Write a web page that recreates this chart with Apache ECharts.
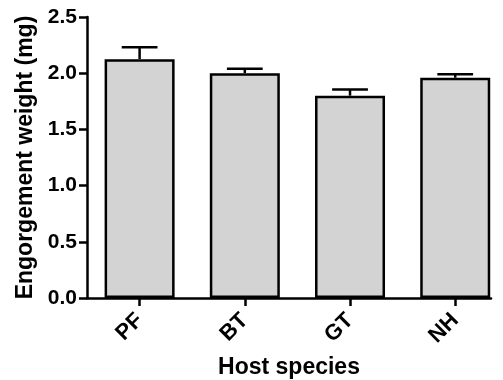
<!DOCTYPE html>
<html>
<head>
<meta charset="utf-8">
<script src="https://cdn.jsdelivr.net/npm/echarts@6/dist/echarts.min.js"></script>
<style>
  html, body { margin: 0; padding: 0; background: #fff; }
  #chart { width: 503px; height: 380px; }
</style>
</head>
<body>
<div id="chart"></div>
<script>
// host species and mean engorgement weight (mg) with upper error (SEM)
const categories = ['PF', 'BT', 'GT', 'NH']
const means = [2.125, 2.0, 1.8, 1.96]
const errors = [0.105, 0.04, 0.055, 0.03]

const font = 'Liberation Sans, Arial, sans-serif'
const chart = echarts.init(document.getElementById('chart'))

const barData = categories.map((c, i) => [i, means[i]])
const errData = categories.map((c, i) => [i, means[i], means[i] + errors[i]])

chart.setOption({
  animation: false,
  grid: { left: 87, right: 12, top: 17, bottom: 82, outerBoundsMode: 'none' },
  xAxis: {
    type: 'value',
    min: -0.5,
    max: 3.34,
    name: 'Host species',
    nameLocation: 'middle',
    nameGap: 58,
    nameTextStyle: { color: '#000', fontFamily: font, fontWeight: 'bold', fontSize: 23 },
    splitLine: { show: false },
    axisLine: { onZero: false, lineStyle: { color: '#000', width: 2.5 } },
    axisTick: { customValues: [0, 1, 2, 3], length: 8, lineStyle: { color: '#000', width: 2.5 } },
    axisLabel: {
      customValues: [0, 1, 2, 3],
      formatter: v => categories[v],
      rotate: 45,
      margin: 19,
      color: '#000',
      fontFamily: font,
      fontWeight: 'bold',
      fontSize: 22
    }
  },
  yAxis: {
    type: 'value',
    min: 0,
    max: 2.5,
    interval: 0.5,
    name: 'Engorgement weight (mg)',
    nameLocation: 'middle',
    nameGap: 50,
    nameTextStyle: { color: '#000', fontFamily: font, fontWeight: 'bold', fontSize: 23 },
    splitLine: { show: false },
    axisLine: { show: true, onZero: false, lineStyle: { color: '#000', width: 2.5 } },
    axisTick: { show: true, length: 8, lineStyle: { color: '#000', width: 2.5 } },
    axisLabel: {
      formatter: v => v.toFixed(1),
      margin: 10,
      color: '#000',
      fontFamily: font,
      fontWeight: 'bold',
      fontSize: 21
    }
  },
  series: [
    {
      type: 'bar',
      data: barData,
      barWidth: 70,
      itemStyle: { color: '#d3d3d3', borderColor: '#000', borderWidth: 2.5 },
      z: 2
    },
    {
      type: 'custom',
      data: errData,
      z: 3,
      renderItem: function(params, api) {
        const x = api.value(0)
        const base = api.coord([x, api.value(1)])
        const top = api.coord([x, api.value(2)])
        const half = api.size([0.17, 0])[0]
        const style = { stroke: '#000', lineWidth: 2.5 }
        return {
          type: 'group',
          children: [
            { type: 'line', shape: { x1: base[0], y1: base[1], x2: top[0], y2: top[1] }, style: style },
            { type: 'line', shape: { x1: top[0] - half, y1: top[1], x2: top[0] + half, y2: top[1] }, style: style }
          ]
        }
      }
    }
  ]
})
</script>
</body>
</html>
